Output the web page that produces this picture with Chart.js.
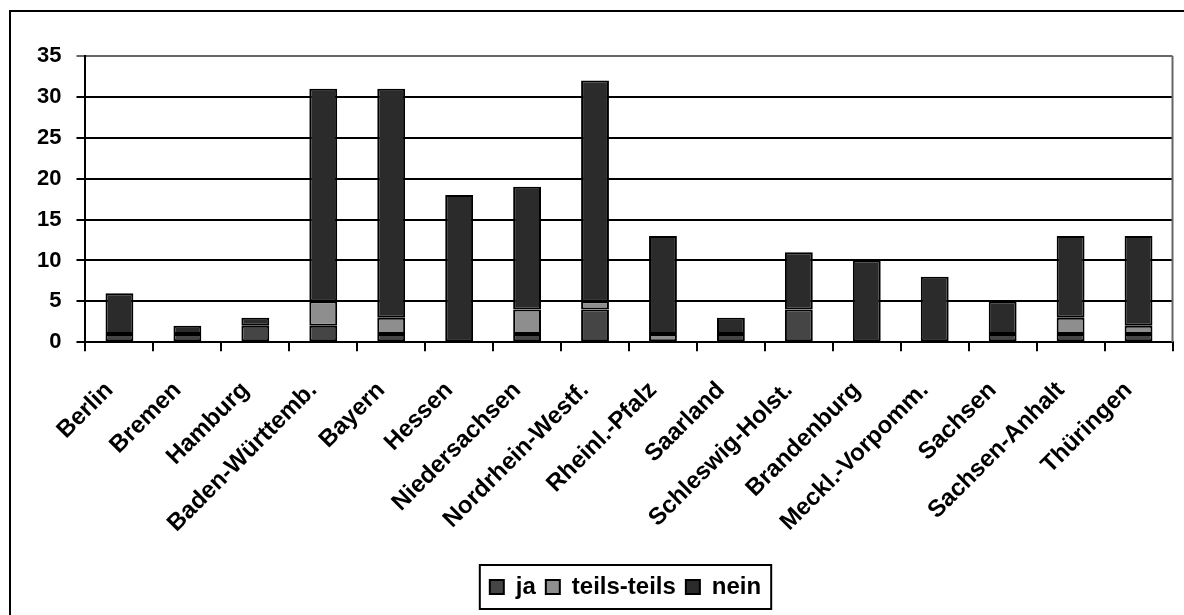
<!DOCTYPE html>
<html>
<head>
<meta charset="utf-8">
<script src="https://cdn.jsdelivr.net/npm/chart.js@4/dist/chart.umd.min.js"></script>
<style>
    html, body { margin: 0; padding: 0; background: #fff; overflow: hidden; }
    #frame {
        position: absolute; left: 9px; top: 10px;
        width: 1190px; height: 620px;
        border: 2px solid #000;
    }
    #wrap { position: absolute; left: 0; top: 0; width: 1184px; height: 615px; }
</style>
</head>
<body>
<div id="frame"></div>
<div id="wrap"><canvas id="barChart"></canvas></div>
<script>
const LAENDER = [
    "Berlin", "Bremen", "Hamburg", "Baden-Württemb.", "Bayern", "Hessen",
    "Niedersachsen", "Nordrhein-Westf.", "Rheinl.-Pfalz", "Saarland",
    "Schleswig-Holst.", "Brandenburg", "Meckl.-Vorpomm.", "Sachsen",
    "Sachsen-Anhalt", "Thüringen"
];
const JA =          [1, 1, 2, 2, 1, 0, 1, 4, 0, 1, 4, 0, 0, 1, 1, 1];
const TEILS_TEILS = [0, 0, 0, 3, 2, 0, 3, 1, 1, 0, 0, 0, 0, 0, 2, 1];
const NEIN =        [5, 1, 1, 26, 28, 18, 15, 27, 12, 2, 7, 10, 8, 4, 10, 11];
const Y_TICKS = [0, 5, 10, 15, 20, 25, 30, 35];

const FONT = "'Liberation Sans', Arial, sans-serif";
const LEGEND_SHIFT = 24; // legend sits centred under the plot, not the canvas

// gray line on the right of the plot area + box round the legend
const frameBits = {
    id: "frameBits",
    afterLayout(chart) {
        chart.legend.left += LEGEND_SHIFT;
        chart.legend.right += LEGEND_SHIFT;
    },
    afterDraw(chart) {
        const ctx = chart.ctx;
        const a = chart.chartArea;
        ctx.save();
        ctx.strokeStyle = "#666";
        ctx.lineWidth = 2;
        ctx.beginPath();
        ctx.moveTo(a.right, a.bottom);
        ctx.lineTo(a.right, a.top);
        ctx.stroke();

        const boxes = chart.legend.legendHitBoxes;
        if (boxes.length) {
            const first = boxes[0];
            const last = boxes[boxes.length - 1];
            const x0 = first.left - 10;
            const y0 = first.top - 10;
            ctx.strokeStyle = "#000";
            ctx.strokeRect(x0, y0, last.left + last.width - first.left + 20, first.height + 20);
        }
        ctx.restore();
    }
};

new Chart(document.getElementById("barChart"), {
    type: "bar",
    data: {
        labels: LAENDER,
        datasets: [
            { label: "ja", data: JA, backgroundColor: "#454545" },
            { label: "teils-teils", data: TEILS_TEILS, backgroundColor: "#8e8e8e" },
            { label: "nein", data: NEIN, backgroundColor: "#2b2b2b" }
        ].map(d => Object.assign(d, {
            borderColor: "#000",
            borderWidth: 2,
            borderSkipped: false,
            categoryPercentage: 1,
            barPercentage: 0.41
        }))
    },
    options: {
        responsive: true,
        maintainAspectRatio: false,
        animation: false,
        layout: { padding: { left: 22, right: 3, top: 56, bottom: 6 } },
        scales: {
            x: {
                stacked: true,
                afterFit(scale) { scale.height += 2; },
                grid: {
                    drawOnChartArea: false,
                    color: "#000",
                    lineWidth: 2,
                    tickLength: 9
                },
                border: { color: "#000", width: 2 },
                ticks: {
                    color: "#000",
                    font: { family: FONT, size: 24, weight: "bold" },
                    maxRotation: 45,
                    minRotation: 45,
                    autoSkip: false,
                    padding: 25,
                    labelOffset: -10
                }
            },
            y: {
                stacked: true,
                min: 0,
                max: 35,
                afterBuildTicks(axis) {
                    axis.ticks = Y_TICKS.map(v => ({ value: v }));
                },
                grid: {
                    color: ctx => ctx.tick && ctx.tick.value === 35 ? "#666" : "#000",
                    lineWidth: 2,
                    tickLength: 9
                },
                border: { color: "#000", width: 2 },
                ticks: {
                    color: "#000",
                    font: { family: FONT, size: 22, weight: "bold" },
                    padding: 15
                }
            }
        },
        plugins: {
            legend: {
                position: "bottom",
                labels: {
                    color: "#000",
                    font: { family: FONT, size: 24, weight: "bold" },
                    boxWidth: 14,
                    boxHeight: 14,
                    padding: 10
                }
            },
            tooltip: { enabled: false }
        }
    },
    plugins: [frameBits]
});
</script>
</body>
</html>
